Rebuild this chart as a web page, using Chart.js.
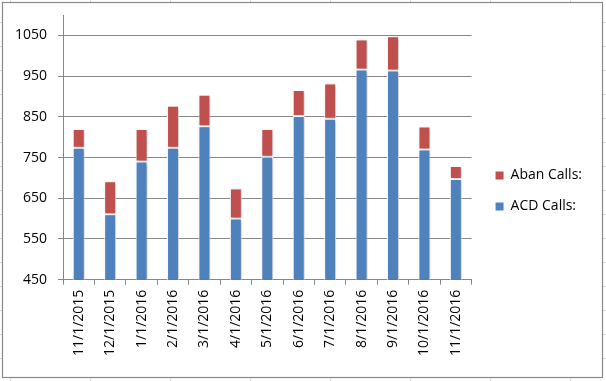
<!DOCTYPE html>
<html>
<head>
<meta charset="utf-8">
<script src="https://cdn.jsdelivr.net/npm/chart.js@4"></script>
<style>
  html, body { margin: 0; padding: 0; background: #fff; }
  #wrap { width: 606px; height: 381px; }
</style>
</head>
<body>
<div id="wrap"><canvas id="c" width="606" height="381"></canvas></div>
<script>
const categories = ['11/1/2015','12/1/2015','1/1/2016','2/1/2016','3/1/2016','4/1/2016','5/1/2016','6/1/2016','7/1/2016','8/1/2016','9/1/2016','10/1/2016','11/1/2016'];
const acdCalls  = [774, 611, 740, 774, 827, 600, 752, 852, 845, 966, 964, 770, 697];
const abanCalls = [46, 81, 80, 103, 77, 74, 68, 64, 87, 74, 84, 56, 32];
const yTicks = [450, 550, 650, 750, 850, 950, 1050];

const FONT = "'Open Sans', 'Liberation Sans', sans-serif";
const GRID = '#878787';

const sheetPlugin = {
  id: 'sheet',
  afterLayout(chart) {
    const lg = chart.legend;
    if (lg) {
      const dx = 7, dy = 3;
      lg.left += dx; lg.right += dx;
      lg.top += dy; lg.bottom += dy;
    }
  },
  beforeDraw(chart) {
    const ctx = chart.ctx, W = chart.width, H = chart.height;
    ctx.save();
    ctx.fillStyle = '#fff';
    ctx.fillRect(0, 0, W, H);
    ctx.strokeStyle = '#d9d9d9';
    ctx.lineWidth = 1;
    ctx.beginPath();
    for (let x = 10.5; x < W; x += 80) { ctx.moveTo(x, 0); ctx.lineTo(x, H); }
    for (let y = 22.5; y < H; y += 24) { ctx.moveTo(0, y); ctx.lineTo(W, y); }
    ctx.stroke();
    ctx.fillStyle = '#fff';
    ctx.fillRect(2.5, 2.5, 600, 375);
    ctx.strokeStyle = '#8a8a8a';
    ctx.lineWidth = 1.2;
    ctx.strokeRect(2.5, 2.5, 600, 375);
    ctx.restore();
  },
  beforeDatasetsDraw(chart) {
    const ctx = chart.ctx;
    ctx.save();
    ctx.shadowColor = 'rgba(0,0,0,0.28)';
    ctx.shadowBlur = 3;
    ctx.shadowOffsetX = 1;
    ctx.shadowOffsetY = 1;
  },
  afterDatasetsDraw(chart) {
    chart.ctx.restore();
  }
};

new Chart(document.getElementById('c'), {
  type: 'bar',
  data: {
    labels: categories,
    datasets: [
      { label: 'ACD Calls:', data: acdCalls, backgroundColor: '#4F81BD', borderColor: '#ffffff', borderWidth: 1, borderSkipped: false },
      { label: 'Aban Calls:', data: abanCalls, backgroundColor: '#C0504D', borderColor: '#ffffff', borderWidth: 1, borderSkipped: false }
    ]
  },
  options: {
    responsive: false,
    animation: false,
    devicePixelRatio: 1,
    layout: { padding: { left: 4, top: 15, bottom: 20, right: 21 } },
    datasets: { bar: { categoryPercentage: 1, barPercentage: 0.38 } },
    plugins: {
      legend: {
        position: 'right',
        reverse: true,
        labels: {
          boxWidth: 8, boxHeight: 8, padding: 17,
          color: '#000',
          font: { family: FONT, size: 14 },
          generateLabels(chart) {
            return chart.data.datasets.map((ds, i) => ({
              text: ds.label, fillStyle: ds.backgroundColor, strokeStyle: ds.backgroundColor,
              lineWidth: 0, datasetIndex: i, hidden: false
            }));
          }
        }
      },
      tooltip: { enabled: false }
    },
    scales: {
      x: {
        stacked: true,
        offset: true,
        grid: { display: true, drawOnChartArea: false, drawTicks: true, tickLength: 5, offset: true, color: GRID },
        border: { display: true, color: GRID, width: 1 },
        ticks: { autoSkip: false, maxRotation: 90, minRotation: 90, padding: 5, color: '#000', font: { family: FONT, size: 14 } }
      },
      y: {
        stacked: true,
        min: 450,
        max: 1100,
        afterBuildTicks(scale) { scale.ticks = yTicks.map(v => ({ value: v })); },
        afterFit(scale) { scale.paddingTop = 0; scale.paddingBottom = 0; },
        grid: { color: GRID, tickLength: 5, drawTicks: true },
        border: { display: true, color: GRID, width: 1 },
        ticks: { padding: 11, color: '#000', font: { family: FONT, size: 14 }, callback: v => String(v) }
      }
    }
  },
  plugins: [sheetPlugin]
});
</script>
</body>
</html>
